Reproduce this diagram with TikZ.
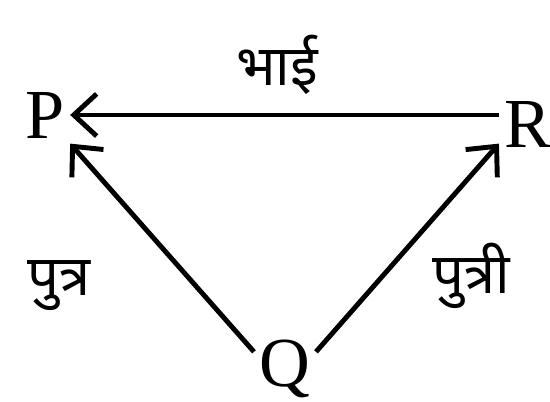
\documentclass[tikz,border=0pt]{standalone}
\usepackage{fontspec}
\setmainfont{Liberation Serif}
\newfontfamily\hindifont[Script=Devanagari]{Noto Sans}
\usetikzlibrary{ positioning, arrows.meta }

\begin{document}
\begin{tikzpicture}[
  person/.style={font=\fontsize{40}{44}\selectfont, inner sep=3pt, anchor=base},
  rel/.style={font=\hindifont\fontsize{32}{36}\selectfont, inner sep=1pt},
  ar/.style={-{Straight Barb[length=13pt, width=24pt]}, line width=2.8pt},
]
  \useasboundingbox (0,0) rectangle (11,8.02);
  \node[person] (p) at (0.9,5.26) {P};
  \node[person] (r) at (10.56,5.06) {R};
  \node[person] (q) at (5.7,0.3) {Q};
  \draw[ar] (r.west |- p.east) -- (p.east);
  \draw[ar] ([yshift=-0.36cm]q.north west) -- (p.south east);
  \draw[ar] ([yshift=-0.36cm]q.north east) -- ([yshift=0.2cm]r.south west);
  \node[rel] (bhai) at (5.54,6.72) {भाई};
  \node[rel] (putra) at (1.18,2.3) {पुत्र};
  \node[rel] (putri) at (9.42,2.5) {पुत्री};
\end{tikzpicture}
\end{document}
